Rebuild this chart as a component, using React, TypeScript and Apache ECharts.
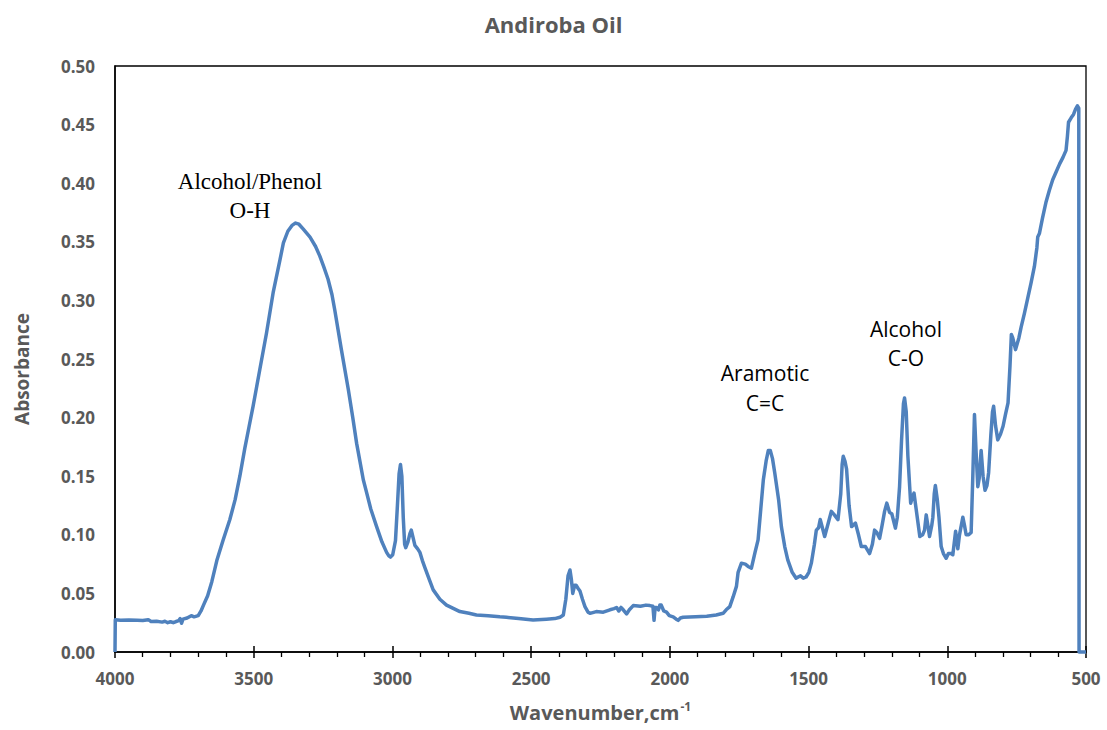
import React, { useEffect, useRef } from "react";
import * as echarts from "echarts";

const chartTitle = "Andiroba Oil";
const xAxisName = "Wavenumber,cm";
const yAxisName = "Absorbance";

const wavenumbers = [
  4000, 3999, 3980, 3950, 3920, 3900, 3880, 3870, 3850, 3830, 3820, 3810, 3800, 3790, 3780, 3770, 3765, 3760, 3755, 3740,
  3725, 3715, 3700, 3690, 3681, 3666, 3651, 3633, 3611, 3586, 3567, 3550, 3532, 3517, 3502, 3478, 3454, 3430, 3405, 3393,
  3377, 3362, 3349, 3337, 3322, 3297, 3277, 3262, 3248, 3232, 3218, 3208, 3184, 3159, 3143, 3129, 3105, 3093, 3078, 3057,
  3038, 3021, 3013, 3007, 2999, 2989, 2982, 2976, 2971, 2966, 2961, 2956, 2952, 2944, 2937, 2932, 2926, 2919, 2909, 2901,
  2892, 2883, 2869, 2853, 2829, 2805, 2779, 2757, 2724, 2697, 2655, 2613, 2589, 2545, 2493, 2445, 2415, 2396, 2384, 2375,
  2367, 2360, 2355, 2350, 2343, 2338, 2330, 2324, 2315, 2306, 2295, 2288, 2265, 2240, 2216, 2201, 2192, 2184, 2176, 2168,
  2156, 2146, 2132, 2106, 2086, 2072, 2061, 2057, 2053, 2048, 2041, 2036, 2031, 2022, 2012, 2002, 1988, 1977, 1970, 1962,
  1952, 1907, 1867, 1833, 1808, 1797, 1784, 1772, 1760, 1754, 1742, 1728, 1718, 1706, 1693, 1682, 1673, 1663, 1653, 1645,
  1638, 1630, 1622, 1608, 1598, 1586, 1575, 1559, 1545, 1529, 1519, 1509, 1499, 1490, 1479, 1472, 1464, 1458, 1449, 1442,
  1429, 1418, 1407, 1394, 1384, 1379, 1375, 1369, 1363, 1354, 1345, 1331, 1320, 1310, 1295, 1280, 1270, 1262, 1254, 1244,
  1235, 1226, 1218, 1208, 1200, 1187, 1180, 1172, 1165, 1158, 1154, 1148, 1142, 1132, 1126, 1120, 1110, 1099, 1089, 1082,
  1076, 1070, 1064, 1056, 1052, 1047, 1043, 1036, 1030, 1022, 1014, 1004, 996, 986, 980, 974, 970, 962, 956, 944,
  938, 932, 923, 914, 908, 902, 896, 890, 885, 878, 871, 864, 857, 851, 843, 837, 833, 826, 818, 808,
  799, 790, 781, 774, 769, 764, 754, 742, 734, 722, 710, 698, 686, 677, 674, 668, 657, 644, 632, 620,
  607, 595, 583, 572, 567, 563, 553, 545, 538, 531, 526, 525, 500,
];

const absorbance = [
  0, 0.0275, 0.027, 0.0272, 0.027, 0.0268, 0.0276, 0.026, 0.0262, 0.0255, 0.0262, 0.025, 0.0258, 0.025, 0.026, 0.0268, 0.0285, 0.0245, 0.028, 0.029,
  0.031, 0.03, 0.031, 0.035, 0.04, 0.048, 0.06, 0.078, 0.095, 0.113, 0.13, 0.15, 0.174, 0.192, 0.21, 0.241, 0.272, 0.3066, 0.335, 0.349,
  0.359, 0.364, 0.366, 0.365, 0.361, 0.354, 0.346, 0.338, 0.329, 0.318, 0.305, 0.292, 0.258, 0.224, 0.2, 0.178, 0.147, 0.136, 0.122, 0.107,
  0.094, 0.085, 0.082, 0.081, 0.083, 0.095, 0.125, 0.152, 0.16, 0.15, 0.115, 0.092, 0.089, 0.094, 0.101, 0.104, 0.098, 0.091, 0.088, 0.085,
  0.078, 0.072, 0.063, 0.053, 0.045, 0.04, 0.037, 0.0345, 0.033, 0.0316, 0.031, 0.03, 0.0296, 0.0285, 0.0274, 0.028, 0.0285, 0.0296, 0.0316, 0.045,
  0.065, 0.07, 0.062, 0.05, 0.057, 0.057, 0.054, 0.052, 0.045, 0.0387, 0.034, 0.033, 0.0345, 0.034, 0.036, 0.037, 0.038, 0.035, 0.038, 0.036,
  0.0325, 0.036, 0.0396, 0.039, 0.04, 0.0396, 0.039, 0.027, 0.038, 0.038, 0.036, 0.04, 0.04, 0.035, 0.034, 0.031, 0.03, 0.028, 0.027, 0.029,
  0.0296, 0.03, 0.0305, 0.0316, 0.033, 0.036, 0.0387, 0.047, 0.056, 0.068, 0.0758, 0.075, 0.073, 0.0715, 0.085, 0.0957, 0.12, 0.147, 0.163, 0.172,
  0.172, 0.165, 0.153, 0.13, 0.107, 0.09, 0.0786, 0.068, 0.063, 0.065, 0.063, 0.064, 0.068, 0.0758, 0.092, 0.104, 0.106, 0.113, 0.105, 0.0986,
  0.11, 0.12, 0.117, 0.113, 0.135, 0.16, 0.167, 0.163, 0.156, 0.125, 0.107, 0.11, 0.1, 0.09, 0.09, 0.084, 0.092, 0.104, 0.102, 0.097,
  0.108, 0.12, 0.127, 0.119, 0.118, 0.1057, 0.115, 0.141, 0.18, 0.212, 0.2168, 0.205, 0.167, 0.127, 0.132, 0.1356, 0.118, 0.0986, 0.1, 0.104,
  0.117, 0.108, 0.0986, 0.108, 0.115, 0.135, 0.142, 0.13, 0.115, 0.09, 0.084, 0.08, 0.084, 0.084, 0.083, 0.095, 0.103, 0.088, 0.1, 0.115,
  0.108, 0.1, 0.1, 0.102, 0.15, 0.2026, 0.17, 0.141, 0.148, 0.172, 0.15, 0.138, 0.142, 0.153, 0.185, 0.205, 0.2097, 0.193, 0.181, 0.186,
  0.1926, 0.203, 0.2126, 0.244, 0.271, 0.268, 0.258, 0.268, 0.277, 0.289, 0.302, 0.315, 0.329, 0.345, 0.354, 0.357, 0.37, 0.384, 0.394, 0.403,
  0.41, 0.4165, 0.422, 0.428, 0.44, 0.452, 0.456, 0.4587, 0.463, 0.466, 0.464, 0, 0,
];

const annotations = [
  { lines: ["Alcohol/Phenol", "O-H"], x: 250, y: 167, font: "Liberation Serif", size: 23, lh: 29 },
  { lines: ["Aramotic", "C=C"], x: 765, y: 358, font: "Open Sans", size: 21, lh: 30 },
  { lines: ["Alcohol", "C-O"], x: 906, y: 314, font: "Open Sans", size: 21, lh: 29 },
];

const yMin = 0;
const yMax = 0.5;
const yStep = 0.05;
const xMin = 500;
const xMax = 4000;
const xStep = 500;

export default function App() {
  const ref = useRef<HTMLDivElement>(null);
  useEffect(() => {
    if (!ref.current) return;
    const chart = echarts.init(ref.current, null, { renderer: "svg" });
    const data = wavenumbers.map((w, i) => [w, absorbance[i]]);
    const labelColor = "#595959";
    const sans = "Open Sans";
    chart.setOption({
      animation: false,
      backgroundColor: "#fff",
      title: {
        text: chartTitle,
        left: "center",
        top: 8,
        textStyle: { fontFamily: sans, fontWeight: "bold", fontSize: 22, color: labelColor },
      },
      grid: {
        left: 115,
        right: 21,
        top: 66,
        bottom: 78,
        show: true,
        borderColor: "#000",
        borderWidth: 1.3,
        backgroundColor: "transparent",
      },
      xAxis: [
        {
          type: "value",
          inverse: true,
          min: xMin,
          max: xMax,
          interval: xStep,
          position: "bottom",
          name: "{n|" + xAxisName + "}{s|-1}",
          nameLocation: "middle",
          nameGap: 48,
          nameTextStyle: {
            rich: {
              n: { fontFamily: sans, fontWeight: "bold", fontSize: 20, color: labelColor, verticalAlign: "bottom" },
              s: { fontFamily: sans, fontWeight: "bold", fontSize: 12, color: labelColor, verticalAlign: "top", padding: [0, 0, 10, 1] },
            },
          },
          axisLine: { show: true, onZero: false, lineStyle: { color: "#000", width: 1.5 } },
          axisTick: { show: true, inside: false, length: 6, lineStyle: { color: "#000", width: 1.5 } },
          minorTick: { show: true, splitNumber: 5, length: 5, lineStyle: { color: "#000", width: 1.3 } },
          axisLabel: {
            margin: 18,
            fontFamily: sans,
            fontWeight: "bold",
            fontSize: 17,
            color: labelColor,
            showMinLabel: true,
            showMaxLabel: true,
            formatter: (v: number) => String(v),
          },
          splitLine: { show: false },
          minorSplitLine: { show: false },
        },
        {
          type: "value",
          inverse: true,
          min: xMin,
          max: xMax,
          interval: xStep,
          position: "bottom",
          axisLine: { show: false },
          axisTick: { show: true, inside: true, length: 6, lineStyle: { color: "#000", width: 1.5 } },
          axisLabel: { show: false },
          splitLine: { show: false },
        },
      ],
      yAxis: {
        type: "value",
        min: yMin,
        max: yMax,
        interval: yStep,
        name: yAxisName,
        nameLocation: "middle",
        nameRotate: 90,
        nameGap: 84,
        nameTextStyle: { fontFamily: sans, fontWeight: "bold", fontSize: 19, color: labelColor, padding: [0, 20, 0, 0] },
        axisLine: { show: true, lineStyle: { color: "#000", width: 1.5 } },
        axisTick: { show: false },
        axisLabel: {
          margin: 20,
          fontFamily: sans,
          fontWeight: "bold",
          fontSize: 17,
          color: labelColor,
          formatter: (v: number) => v.toFixed(2),
        },
        splitLine: { show: false },
      },
      graphic: annotations.map((a) => ({
        type: "text",
        x: a.x,
        y: a.y,
        style: {
          text: a.lines.join("\n"),
          fontFamily: a.font,
          fontSize: a.size,
          lineHeight: a.lh,
          fill: "#000",
          align: "center",
          verticalAlign: "top",
        },
      })),
      series: [
        {
          type: "line",
          xAxisIndex: 0,
          data,
          showSymbol: false,
          symbol: "none",
          smooth: false,
          clip: false,
          lineStyle: { color: "#4F81BD", width: 3.5, join: "round" },
          z: 3,
        },
      ],
    });
    return () => chart.dispose();
  }, []);
  return <div ref={ref} style={{ position: "absolute", left: 0, top: 0, width: 1107, height: 730 }} />;
}
